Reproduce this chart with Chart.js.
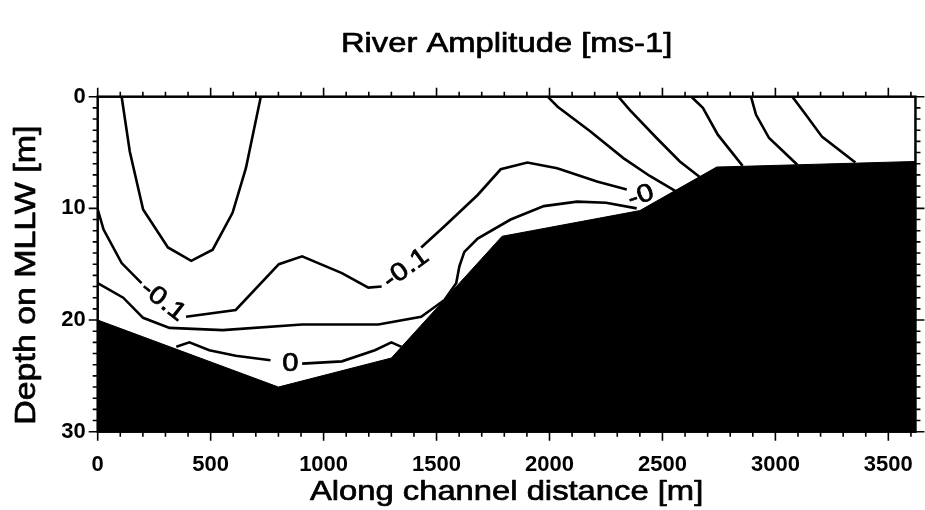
<!DOCTYPE html>
<html>
<head>
<meta charset="utf-8">
<script src="https://cdn.jsdelivr.net/npm/chart.js@4"></script>
<style>
  html, body { margin: 0; padding: 0; background: #fff; }
</style>
</head>
<body>
<canvas id="riverChart" width="925" height="510"></canvas>
<script>
// channel bed: distance [m] and depth [m]
const bedDistance = [0, 800, 1300, 1790, 2400, 2740, 3620];
const bedDepth = [20, 26, 23.4, 12.5, 10.2, 6.3, 5.8];

// contour lines as [distance, depth]; null leaves a gap for a label
const contourBowl = [[106, 0], [142, 4.9], [201, 10.1], [311, 13.5], [414, 14.7], [509, 13.7], [597, 10.4], [656, 6.4], [722, 0]];
const contourMinus01 = [[0, 10.1], [26, 11.9], [106, 14.9], [194, 16.7], null,
  [391, 19.7], [611, 19.1], [802, 15.0], [905, 14.3], [1081, 15.8], [1198, 17.1], [1257, 17.0], null,
  [1432, 13.5], [1535, 11.6], [1682, 8.8], [1784, 6.5], [1902, 5.9], [2034, 6.4], [2210, 7.6], [2342, 8.3]];
const contourMid = [[0, 16.7], [113, 18.0], [201, 19.8], [318, 20.7], [553, 20.9], [905, 20.4], [1242, 20.4], [1432, 19.7],
  [1535, 18.2], [1587, 16.7], [1601, 15.2], [1623, 13.9], [1682, 12.7], [1828, 11.0], [1975, 9.8], [2122, 9.4], [2250, 9.5], [2386, 10.0]];
const contourZero = [[348, 22.4], [406, 22.0], [494, 22.7], [611, 23.2], [765, 23.6], null,
  [905, 23.9], [1081, 23.7], [1227, 22.7], [1300, 22.0], [1345, 22.4]];
const contourRight1 = [[1992, 0], [2036, 0.9], [2180, 3.1], [2327, 5.5], [2444, 7.1], [2562, 8.5]];
const contourRight2 = [[2305, 0], [2356, 1.2], [2474, 3.7], [2577, 5.8], [2665, 7.2]];
const contourRight3 = [[2628, 0], [2679, 1.0], [2745, 3.4], [2855, 6.2]];
const contourRight4 = [[2892, 0], [2914, 1.6], [2972, 3.7], [3097, 6.1]];
const contourRight5 = [[3075, 0], [3134, 1.6], [3207, 3.6], [3354, 5.9]];

// contour labels
const labelText = ['-0.1', '-0.1', '0', '-0'];
const labelDistance = [289, 1365, 853, 2405];
const labelDepth = [18.3, 15.4, 23.95, 8.9];
const labelAngle = [38, -36, 0, -20];

// axis ticks
const xTicks = [0, 500, 1000, 1500, 2000, 2500, 3000, 3500];
const yTicks = [0, 10, 20, 30];

const titleText = 'River Amplitude [ms-1]';
const xTitle = 'Along channel distance [m]';
const yTitle = 'Depth on MLLW [m]';

const font = '"Liberation Sans", Arial, Helvetica, sans-serif';
const stretch = 1.17; // the scanned lettering is wider than Arial

function toPoints(line) {
  return line.map(p => p === null ? { x: NaN, y: null } : { x: p[0], y: p[1] });
}

function contour(line) {
  return {
    data: toPoints(line),
    showLine: true,
    borderColor: '#000',
    borderWidth: 2.6,
    pointRadius: 0,
    spanGaps: false,
    tension: 0,
    order: 1
  };
}

function wideText(ctx, text, x, y, angle, size) {
  ctx.save();
  ctx.translate(x, y);
  ctx.rotate(angle * Math.PI / 180);
  ctx.scale(stretch, 1);
  ctx.font = size + 'px ' + font;
  ctx.textAlign = 'center';
  ctx.textBaseline = 'middle';
  ctx.lineWidth = 0.7;
  ctx.lineJoin = 'round';
  ctx.fillText(text, 0, 0);
  ctx.strokeText(text, 0, 0);
  ctx.restore();
}

const frame = {
  id: 'frame',
  afterDatasetsDraw(chart) {
    const { ctx, chartArea: a, scales: { x, y } } = chart;
    ctx.save();
    ctx.fillStyle = '#000';
    ctx.strokeStyle = '#000';
    labelText.forEach((t, i) => {
      wideText(ctx, t, x.getPixelForValue(labelDistance[i]), y.getPixelForValue(labelDepth[i]), labelAngle[i], 25);
    });

    ctx.lineWidth = 2.5;
    ctx.strokeRect(a.left, a.top, a.right - a.left, a.bottom - a.top);

    ctx.lineWidth = 1.6;
    ctx.beginPath();
    for (let v = 0; v <= x.max; v += 100) {
      const px = x.getPixelForValue(v);
      const len = v % 500 === 0 ? 9 : 5;
      ctx.moveTo(px, a.bottom); ctx.lineTo(px, a.bottom + len);
      ctx.moveTo(px, a.top); ctx.lineTo(px, a.top - len);
    }
    for (let v = 0; v <= y.max; v += 1) {
      const py = y.getPixelForValue(v);
      const len = v % 10 === 0 ? 9 : 5;
      ctx.moveTo(a.left, py); ctx.lineTo(a.left - len, py);
      ctx.moveTo(a.right, py); ctx.lineTo(a.right + len, py);
    }
    ctx.stroke();

    const cx = (a.left + a.right) / 2;
    wideText(ctx, titleText, cx, 44, 0, 28);
    wideText(ctx, xTitle, cx, 492, 0, 28);
    wideText(ctx, yTitle, 27, (a.top + a.bottom) / 2 + 11, -90, 29);
    ctx.restore();
  }
};

new Chart(document.getElementById('riverChart'), {
  type: 'scatter',
  data: {
    datasets: [
      {
        data: bedDistance.map((d, i) => ({ x: d, y: bedDepth[i] })),
        showLine: true,
        fill: { value: 30 },
        backgroundColor: '#000',
        borderColor: '#000',
        borderWidth: 1,
        pointRadius: 0,
        order: 0
      },
      contour(contourBowl),
      contour(contourMinus01),
      contour(contourMid),
      contour(contourZero),
      contour(contourRight1),
      contour(contourRight2),
      contour(contourRight3),
      contour(contourRight4),
      contour(contourRight5)
    ]
  },
  options: {
    responsive: false,
    animation: false,
    layout: { autoPadding: false, padding: { left: 0, right: 5.7, top: 96.7, bottom: 0 } },
    plugins: {
      legend: { display: false },
      tooltip: { enabled: false }
    },
    scales: {
      x: {
        type: 'linear',
        min: 0,
        max: 3620,
        grid: { display: false },
        border: { display: false },
        afterBuildTicks(s) { s.ticks = xTicks.map(v => ({ value: v })); },
        ticks: {
          color: '#000',
          padding: 12,
          callback: v => String(v),
          font: { family: font, size: 22, weight: 'bold' }
        },
        afterFit(s) { s.height = 510 - 431.7; }
      },
      y: {
        type: 'linear',
        reverse: true,
        min: 0,
        max: 30,
        grid: { display: false },
        border: { display: false },
        afterBuildTicks(s) { s.ticks = yTicks.map(v => ({ value: v })); },
        ticks: {
          color: '#000',
          padding: 4,
          callback: v => String(v),
          font: { family: font, size: 22, weight: 'bold' }
        },
        afterFit(s) { s.width = 97.7; }
      }
    }
  },
  plugins: [frame]
});
</script>
</body>
</html>
